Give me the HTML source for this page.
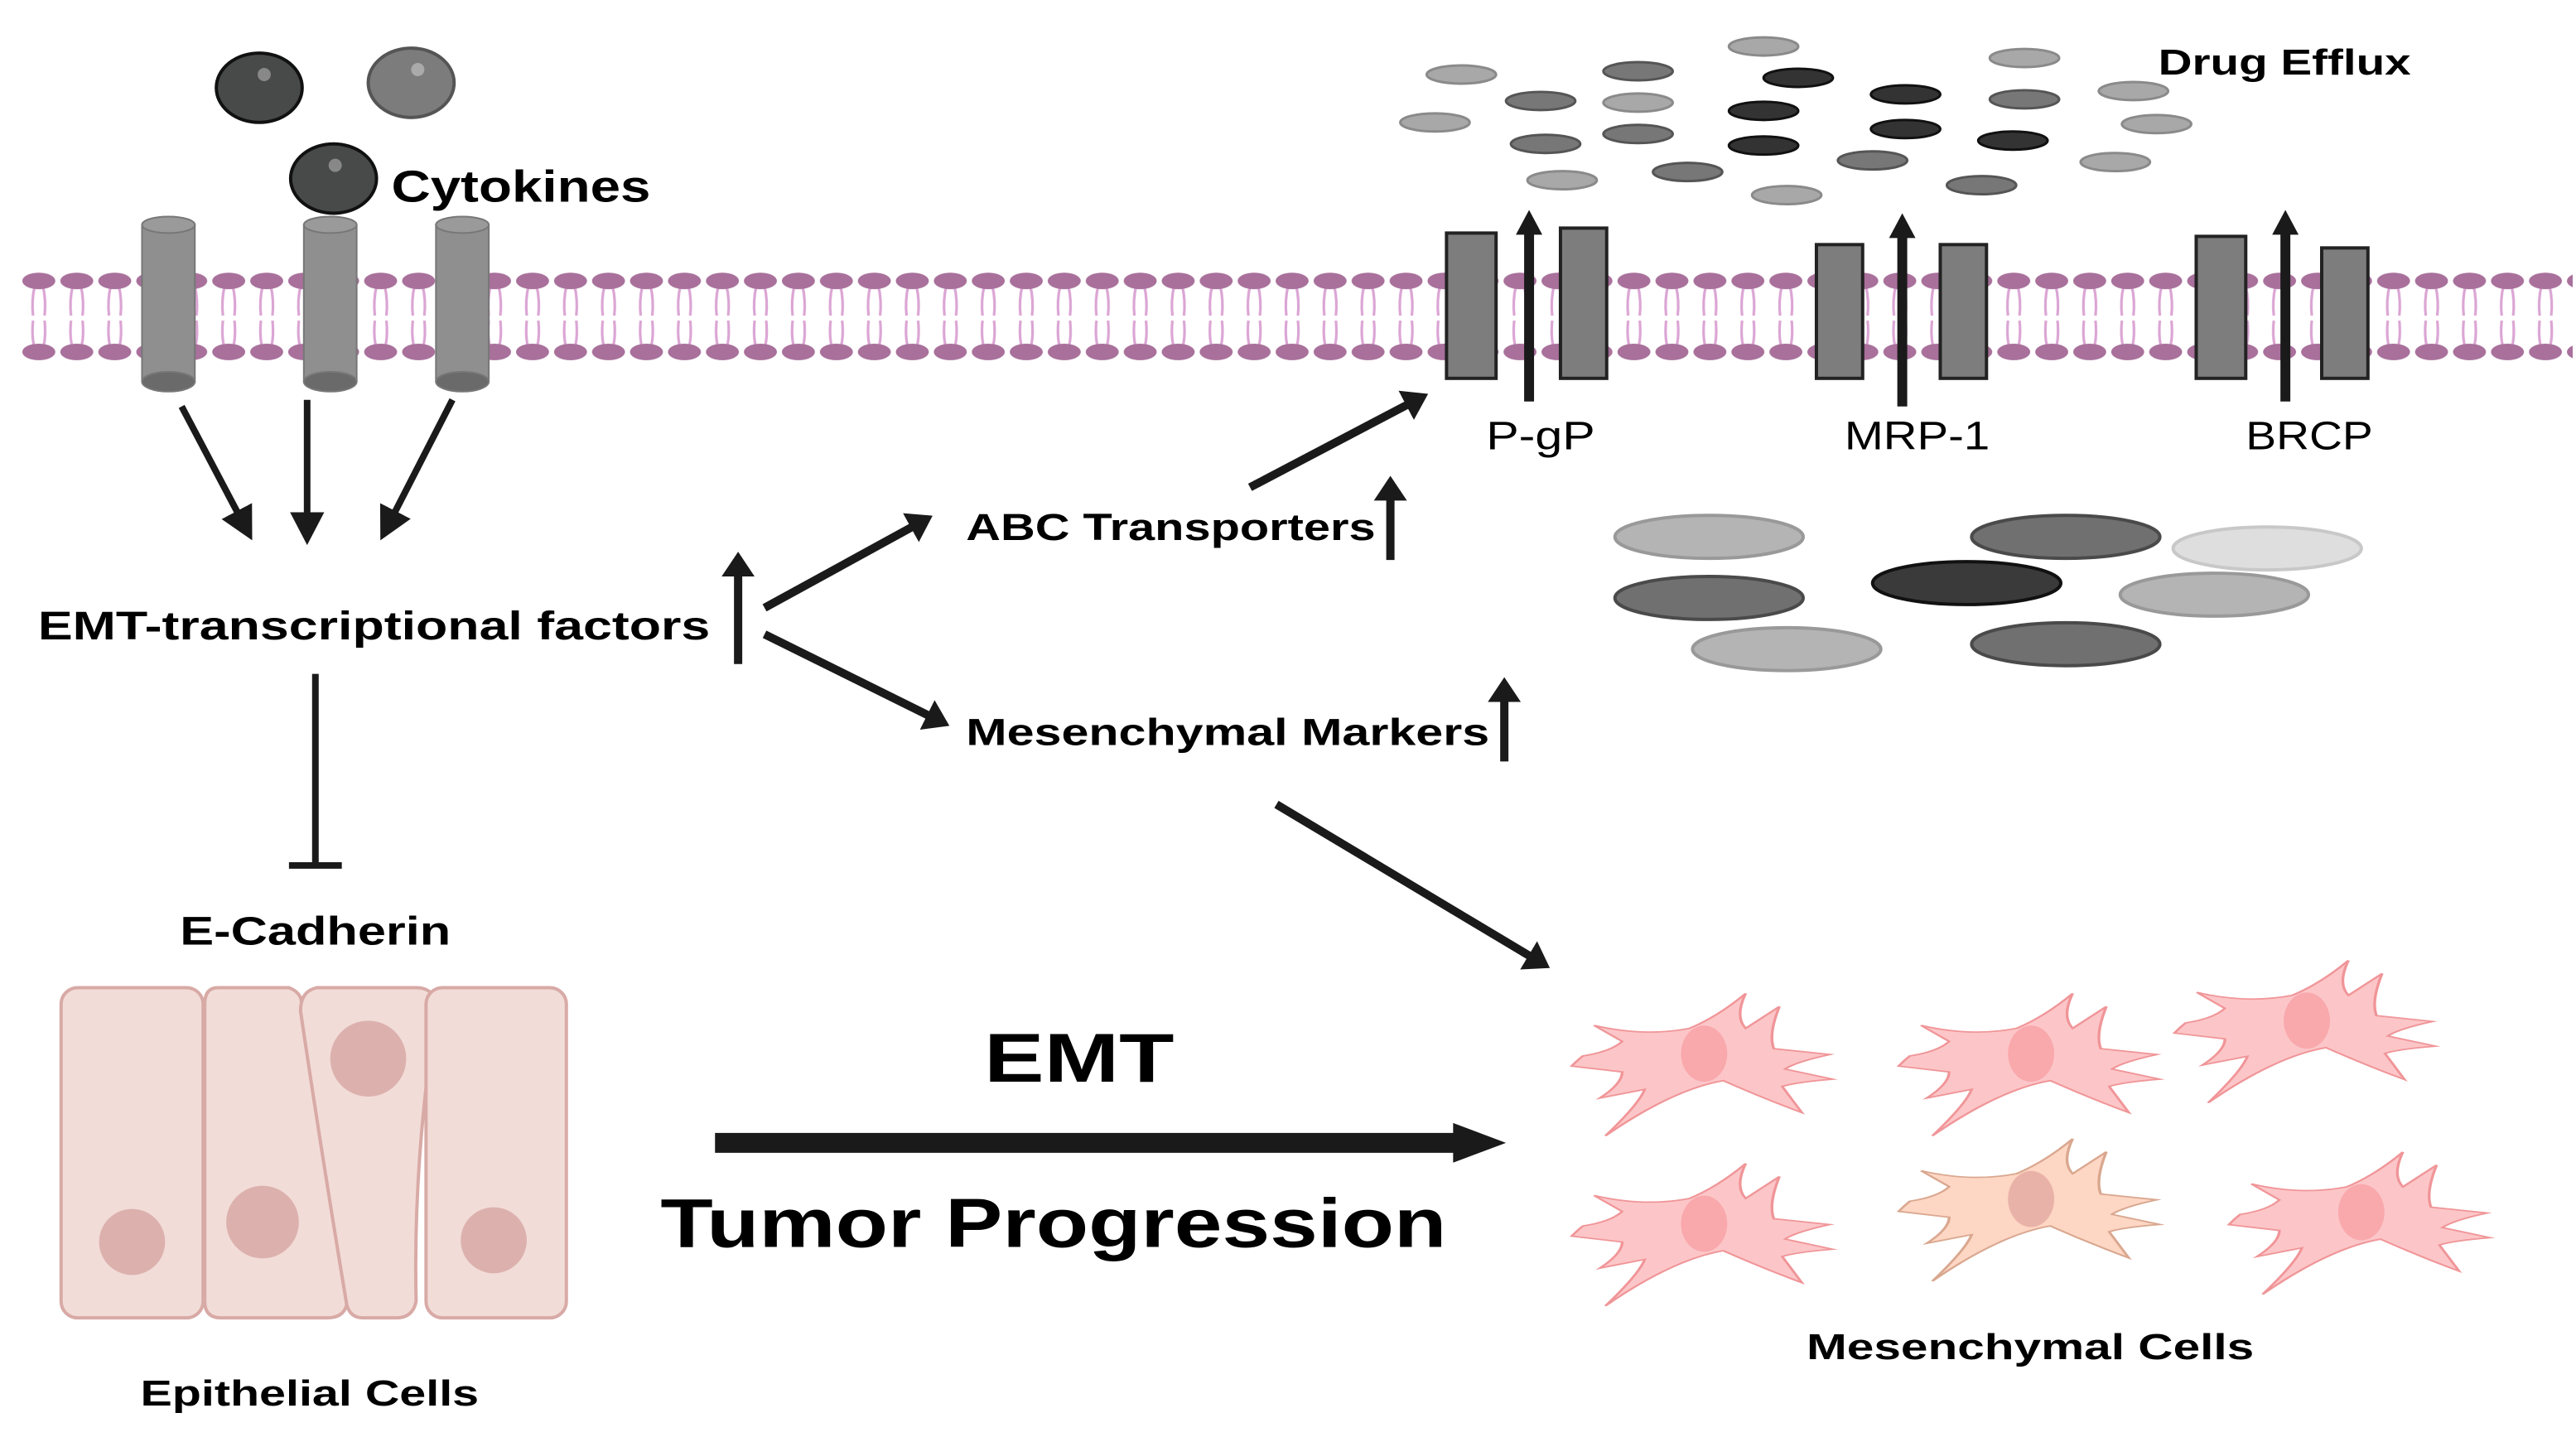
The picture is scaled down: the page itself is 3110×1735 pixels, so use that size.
<!DOCTYPE html>
<html><head><meta charset="utf-8"><style>
html,body{margin:0;padding:0;background:#fff;}
svg{display:block;}
text{font-family:"Liberation Sans",sans-serif;}
</style></head><body>
<svg width="3110" height="1735" viewBox="0 0 1560 870" xmlns="http://www.w3.org/2000/svg">
<defs>
<pattern id="lip" x="12" y="160" width="23" height="64" patternUnits="userSpaceOnUse">
<path d="M9,13 Q7,22 8,31 M14,13 Q16,22 15,31 M8,34 Q7,44 9,51 M15,34 Q16,44 14,51" stroke="#dba5d4" stroke-width="1.6" fill="none"/>
<ellipse cx="11.5" cy="10" rx="10" ry="5" fill="#a8709b"/>
<ellipse cx="11.5" cy="53" rx="10" ry="5" fill="#a8709b"/>
</pattern>
<marker id="ah" markerWidth="6" markerHeight="6" refX="3" refY="3" orient="auto" markerUnits="strokeWidth">
<path d="M0,0.4 L5,3 L0,5.6 Z" fill="#1a1a1a"/></marker>
<marker id="ahs" markerWidth="4" markerHeight="4" refX="1" refY="2" orient="auto" markerUnits="strokeWidth">
<path d="M0,0 L3,2 L0,4 Z" fill="#1a1a1a"/></marker>
<path id="cell" d="M-42,-3 Q-32,-6 -28,-13 L-38,-24 Q-20,-16 -4,-22 Q6,-30 16,-46 Q12,-30 16,-22 L28,-37 Q24,-18 26,-8 L46,-4 Q34,1 30,6 L47,13 Q34,15 29,18 L36,36 Q22,26 8,14 Q-10,20 -34,52 Q-22,30 -20,20 L-36,26 Q-28,16 -28,8 L-46,4 Q-44,0 -42,-3 Z"/>
</defs>

<rect x="12" y="160" width="1546" height="64" fill="url(#lip)"/>

<ellipse cx="157" cy="53" rx="26" ry="21" fill="#474a48" stroke="#111" stroke-width="2"/>
<ellipse cx="160" cy="45" rx="4" ry="4" fill="#888"/>
<ellipse cx="249" cy="50" rx="26" ry="21" fill="#7c7c7c" stroke="#555" stroke-width="2"/>
<ellipse cx="253" cy="42" rx="4" ry="4" fill="#aaa"/>
<ellipse cx="202" cy="108" rx="26" ry="21" fill="#474a48" stroke="#111" stroke-width="2"/>
<ellipse cx="203" cy="100" rx="4" ry="4" fill="#888"/>
<text x="237" y="122" font-size="27" font-weight="bold" textLength="157" lengthAdjust="spacingAndGlyphs">Cytokines</text>

<g fill="#8f8f8f" stroke="#777" stroke-width="1">
<rect x="86" y="136" width="32" height="95"/><ellipse cx="102" cy="136" rx="16" ry="5" fill="#9a9a9a"/><ellipse cx="102" cy="231" rx="16" ry="6" fill="#6a6a6a"/>
<rect x="184" y="136" width="32" height="95"/><ellipse cx="200" cy="136" rx="16" ry="5" fill="#9a9a9a"/><ellipse cx="200" cy="231" rx="16" ry="6" fill="#6a6a6a"/>
<rect x="264" y="136" width="32" height="95"/><ellipse cx="280" cy="136" rx="16" ry="5" fill="#9a9a9a"/><ellipse cx="280" cy="231" rx="16" ry="6" fill="#6a6a6a"/>
</g>

<g stroke="#1a1a1a" stroke-width="4" fill="none">
<line x1="110" y1="246" x2="149" y2="320" marker-end="url(#ah)"/>
<line x1="186" y1="242" x2="186" y2="322" marker-end="url(#ah)"/>
<line x1="274" y1="242" x2="234" y2="320" marker-end="url(#ah)"/>
</g>

<text x="23" y="387" font-size="24" font-weight="bold" textLength="407" lengthAdjust="spacingAndGlyphs">EMT-transcriptional factors</text>
<g stroke="#1a1a1a" stroke-width="5" fill="none">
<line x1="447" y1="402" x2="447" y2="344" marker-end="url(#ahs)"/>
<line x1="463" y1="368" x2="556" y2="317" marker-end="url(#ahs)"/>
<line x1="463" y1="384" x2="566" y2="435" marker-end="url(#ahs)"/>
<line x1="842" y1="339" x2="842" y2="298" marker-end="url(#ahs)"/>
<line x1="911" y1="461" x2="911" y2="420" marker-end="url(#ahs)"/>
<line x1="757" y1="295" x2="856" y2="243" marker-end="url(#ahs)"/>
<line x1="773" y1="487" x2="930" y2="581" marker-end="url(#ahs)"/>
</g>
<text x="585" y="327" font-size="23" font-weight="bold" textLength="248" lengthAdjust="spacingAndGlyphs">ABC Transporters</text>
<text x="585" y="451" font-size="23" font-weight="bold" textLength="317" lengthAdjust="spacingAndGlyphs">Mesenchymal Markers</text>

<line x1="191" y1="408" x2="191" y2="524" stroke="#1a1a1a" stroke-width="4"/>
<line x1="175" y1="524" x2="207" y2="524" stroke="#1a1a1a" stroke-width="4"/>
<text x="109" y="572" font-size="24" font-weight="bold" textLength="164" lengthAdjust="spacingAndGlyphs">E-Cadherin</text>

<g fill="#f2dcd8" stroke="#d8aaa6" stroke-width="2">
<rect x="37" y="598" width="86" height="200" rx="10"/>
<path d="M132,598 L175,598 Q185,602 182,612 Q195,700 210,790 Q208,798 198,798 L134,798 Q124,798 124,788 L124,608 Q124,598 132,598 Z"/>
<path d="M192,598 L252,598 Q262,598 265,608 Q250,700 252,788 Q250,798 240,798 L220,798 Q212,798 210,790 Q195,700 182,612 Q182,600 192,598 Z"/>
<rect x="258" y="598" width="85" height="200" rx="10"/>
</g>
<g fill="#dcb1ad">
<circle cx="80" cy="752" r="20"/><circle cx="159" cy="740" r="22"/><circle cx="223" cy="641" r="23"/><circle cx="299" cy="751" r="20"/>
</g>
<text x="85" y="851" font-size="22" font-weight="bold" textLength="205" lengthAdjust="spacingAndGlyphs">Epithelial Cells</text>

<text x="596" y="655" font-size="42" font-weight="bold" textLength="115" lengthAdjust="spacingAndGlyphs">EMT</text>
<line x1="433" y1="692" x2="885" y2="692" stroke="#1a1a1a" stroke-width="12"/>
<path d="M880,680 L912,692 L880,704 Z" fill="#1a1a1a"/>
<text x="400" y="755" font-size="42" font-weight="bold" textLength="476" lengthAdjust="spacingAndGlyphs">Tumor Progression</text>

<g fill="#7d7d7d" stroke="#222" stroke-width="2">
<rect x="876" y="141" width="30" height="88"/><rect x="945" y="138" width="28" height="91"/>
<rect x="1100" y="148" width="28" height="81"/><rect x="1175" y="148" width="28" height="81"/>
<rect x="1330" y="143" width="30" height="86"/><rect x="1406" y="150" width="28" height="79"/>
</g>
<g stroke="#1a1a1a" stroke-width="6">
<line x1="926" y1="243" x2="926" y2="138"/><line x1="1152" y1="246" x2="1152" y2="141"/><line x1="1384" y1="243" x2="1384" y2="138"/>
</g>
<g fill="#1a1a1a">
<path d="M918,142 L926,127 L934,142Z"/><path d="M1144,144 L1152,129 L1160,144Z"/><path d="M1376,142 L1384,127 L1392,142Z"/>
</g>
<g font-size="24">
<text x="900" y="272" textLength="66" lengthAdjust="spacingAndGlyphs">P-gP</text>
<text x="1117" y="272" textLength="88" lengthAdjust="spacingAndGlyphs">MRP-1</text>
<text x="1360" y="272" textLength="77" lengthAdjust="spacingAndGlyphs">BRCP</text>
</g>

<g stroke-width="1.5">
<ellipse cx="885" cy="45" rx="21" ry="5.5" fill="#a8a8a8" stroke="#8a8a8a"/>
<ellipse cx="869" cy="74" rx="21" ry="5.5" fill="#a8a8a8" stroke="#8a8a8a"/>
<ellipse cx="933" cy="61" rx="21" ry="5.5" fill="#777" stroke="#555"/>
<ellipse cx="992" cy="43" rx="21" ry="5.5" fill="#777" stroke="#555"/>
<ellipse cx="992" cy="62" rx="21" ry="5.5" fill="#a8a8a8" stroke="#8a8a8a"/>
<ellipse cx="992" cy="81" rx="21" ry="5.5" fill="#777" stroke="#555"/>
<ellipse cx="936" cy="87" rx="21" ry="5.5" fill="#777" stroke="#555"/>
<ellipse cx="946" cy="109" rx="21" ry="5.5" fill="#a8a8a8" stroke="#8a8a8a"/>
<ellipse cx="1022" cy="104" rx="21" ry="5.5" fill="#777" stroke="#555"/>
<ellipse cx="1068" cy="28" rx="21" ry="5.5" fill="#a8a8a8" stroke="#8a8a8a"/>
<ellipse cx="1089" cy="47" rx="21" ry="5.5" fill="#333" stroke="#111"/>
<ellipse cx="1068" cy="67" rx="21" ry="5.5" fill="#333" stroke="#111"/>
<ellipse cx="1068" cy="88" rx="21" ry="5.5" fill="#333" stroke="#111"/>
<ellipse cx="1082" cy="118" rx="21" ry="5.5" fill="#a8a8a8" stroke="#8a8a8a"/>
<ellipse cx="1154" cy="57" rx="21" ry="5.5" fill="#333" stroke="#111"/>
<ellipse cx="1154" cy="78" rx="21" ry="5.5" fill="#333" stroke="#111"/>
<ellipse cx="1134" cy="97" rx="21" ry="5.5" fill="#777" stroke="#555"/>
<ellipse cx="1200" cy="112" rx="21" ry="5.5" fill="#777" stroke="#555"/>
<ellipse cx="1226" cy="35" rx="21" ry="5.5" fill="#a8a8a8" stroke="#8a8a8a"/>
<ellipse cx="1226" cy="60" rx="21" ry="5.5" fill="#777" stroke="#555"/>
<ellipse cx="1219" cy="85" rx="21" ry="5.5" fill="#333" stroke="#111"/>
<ellipse cx="1292" cy="55" rx="21" ry="5.5" fill="#a8a8a8" stroke="#8a8a8a"/>
<ellipse cx="1306" cy="75" rx="21" ry="5.5" fill="#a8a8a8" stroke="#8a8a8a"/>
<ellipse cx="1281" cy="98" rx="21" ry="5.5" fill="#a8a8a8" stroke="#8a8a8a"/>
</g>
<text x="1307" y="45" font-size="22" font-weight="bold" textLength="153" lengthAdjust="spacingAndGlyphs">Drug Efflux</text>

<g stroke-width="2">
<ellipse cx="1035" cy="325" rx="57" ry="13" fill="#b4b4b4" stroke="#999"/>
<ellipse cx="1251" cy="325" rx="57" ry="13" fill="#707070" stroke="#4a4a4a"/>
<ellipse cx="1373" cy="332" rx="57" ry="13" fill="#dedede" stroke="#c8c8c8"/>
<ellipse cx="1035" cy="362" rx="57" ry="13" fill="#707070" stroke="#4a4a4a"/>
<ellipse cx="1191" cy="353" rx="57" ry="13" fill="#3a3a3a" stroke="#111"/>
<ellipse cx="1341" cy="360" rx="57" ry="13" fill="#b4b4b4" stroke="#999"/>
<ellipse cx="1082" cy="393" rx="57" ry="13" fill="#b4b4b4" stroke="#999"/>
<ellipse cx="1251" cy="390" rx="57" ry="13" fill="#707070" stroke="#4a4a4a"/>
</g>

<!-- mesenchymal cells -->
<g transform="translate(1030,642) scale(1.7,0.88)"><use href="#cell" fill="#fcc6c8" stroke="#f09598" stroke-width="1"/></g>
<g transform="translate(1228,642) scale(1.7,0.88)"><use href="#cell" fill="#fcc6c8" stroke="#f09598" stroke-width="1"/></g>
<g transform="translate(1395,622) scale(1.7,0.88)"><use href="#cell" fill="#fcc6c8" stroke="#f09598" stroke-width="1"/></g>
<g transform="translate(1030,745) scale(1.7,0.88)"><use href="#cell" fill="#fcc6c8" stroke="#f09598" stroke-width="1"/></g>
<g transform="translate(1228,730) scale(1.7,0.88)"><use href="#cell" fill="#fdd6c4" stroke="#d9a78f" stroke-width="1"/></g>
<g transform="translate(1428,738) scale(1.7,0.88)"><use href="#cell" fill="#fcc6c8" stroke="#f09598" stroke-width="1"/></g>
<g fill="#f9a8ac">
<ellipse cx="1032" cy="638" rx="14" ry="17"/><ellipse cx="1230" cy="638" rx="14" ry="17"/><ellipse cx="1397" cy="618" rx="14" ry="17"/>
<ellipse cx="1032" cy="741" rx="14" ry="17"/><ellipse cx="1230" cy="726" rx="14" ry="17" fill="#e9b2a8"/><ellipse cx="1430" cy="734" rx="14" ry="17"/>
</g>
<text x="1094" y="823" font-size="22" font-weight="bold" textLength="271" lengthAdjust="spacingAndGlyphs">Mesenchymal Cells</text>
</svg>
</body></html>
